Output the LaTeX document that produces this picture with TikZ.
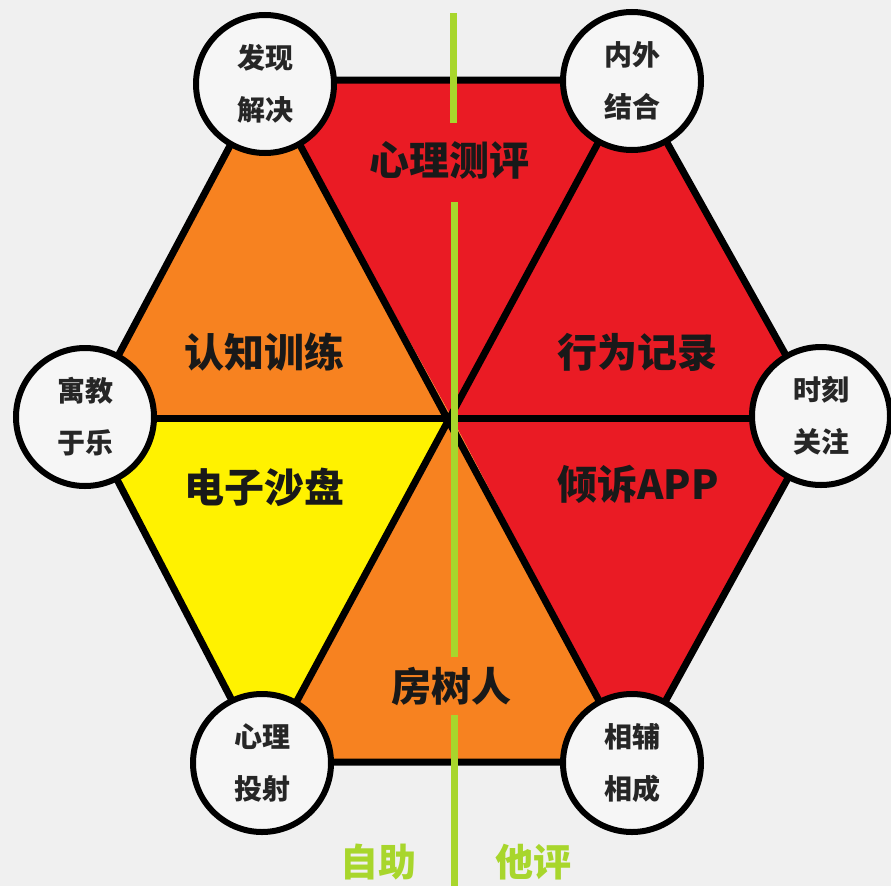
\documentclass[tikz,border=0pt]{standalone}
\usepackage{fontspec}
\setmainfont{Noto Sans CJK SC}
\definecolor{bg}{RGB}{240,240,240}
\definecolor{hred}{RGB}{234,27,36}
\definecolor{horange}{RGB}{247,130,32}
\definecolor{hyellow}{RGB}{255,242,0}
\definecolor{hgreen}{RGB}{168,214,44}
\definecolor{cfill}{RGB}{246,246,246}
\begin{document}
\begin{tikzpicture}[x=1pt,y=-1pt,
  edge/.style={draw=black,line width=7pt,line join=miter},
  divider/.style={draw=hgreen,line width=7pt},
  vcircle/.style={circle,draw=black,line width=6pt,fill=cfill,minimum size=138pt,inner sep=0pt,align=center,font=\bfseries\fontsize{28}{52}\selectfont,text=black!85},
  seglabel/.style={font=\bfseries\fontsize{40}{40}\selectfont,text=black!90,inner sep=0pt},
  sidelabel/.style={font=\bfseries\fontsize{38}{38}\selectfont,text=hgreen,inner sep=0pt}]
\useasboundingbox (0,0) rectangle (891,886);
\fill[bg] (0,0) rectangle (891,886);
% vertices
\coordinate (TL) at (265,80);
\coordinate (TR) at (632,80);
\coordinate (R) at (821,418);
\coordinate (BR) at (632,762);
\coordinate (BL) at (264,762);
\coordinate (L) at (85,418);
\coordinate (C) at (452,418);
% triangles
\fill[hred] (TL) -- (TR) -- (C) -- cycle;
\fill[hred] (TR) -- (R) -- (C) -- cycle;
\fill[hred] (R) -- (BR) -- (C) -- cycle;
\fill[horange] (BR) -- (BL) -- (C) -- cycle;
\fill[hyellow] (BL) -- (L) -- (C) -- cycle;
\fill[horange] (L) -- (TL) -- (C) -- cycle;
% edges
\draw[edge] (TL) -- (TR) -- (R) -- (BR) -- (BL) -- (L) -- cycle;
\draw[edge] (TL) -- (BR);
\draw[edge] (TR) -- (BL);
\draw[edge] (L) -- (R);
% green divider
\coordinate (g1a) at (453,13);
\coordinate (g1b) at (453,123);
\coordinate (g2a) at (454,202);
\coordinate (g2b) at (454,657);
\coordinate (g3a) at (454,715);
\coordinate (g3b) at (454,886);
\draw[divider] (g1a) -- (g1b);
\draw[divider] (g2a) -- (g2b);
\draw[divider] (g3a) -- (g3b);
% segment labels
\node[seglabel] (s1) at (449,160) {心理测评};
\node[seglabel] (s2) at (264,352) {认知训练};
\node[seglabel] (s3) at (637,352) {行为记录};
\node[seglabel] (s4) at (264,487) {电子沙盘};
\node[seglabel] (s5) at (638,484) {倾诉APP};
\node[seglabel] (s6) at (451,687) {房树人};
% vertex circles
\node[vcircle] (cTL) at (265,84) {发现\\解决};
\node[vcircle] (cTR) at (632,81) {内外\\结合};
\node[vcircle] (cR) at (821,416) {时刻\\关注};
\node[vcircle] (cBR) at (632,763) {相辅\\相成};
\node[vcircle] (cBL) at (262,763) {心理\\投射};
\node[vcircle] (cL) at (85,417) {寓教\\于乐};
% bottom labels
\node[sidelabel] (zz) at (378,862) {自助};
\node[sidelabel] (tp) at (533,862) {他评};
\end{tikzpicture}
\end{document}
